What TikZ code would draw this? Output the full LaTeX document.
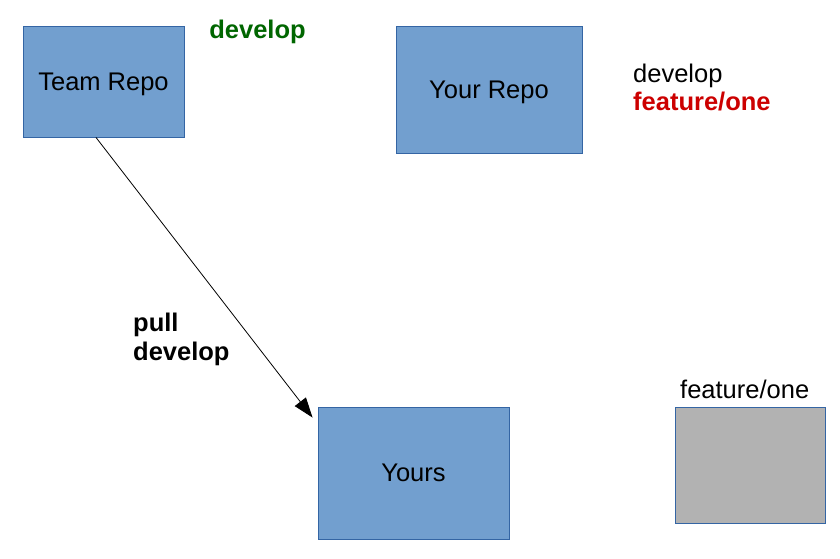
\documentclass[tikz,border=0pt]{standalone}
\usepackage{fontspec}
\setmainfont{Liberation Sans}
\usetikzlibrary{arrows.meta}
\definecolor{boxfill}{HTML}{729FCF}
\definecolor{boxline}{HTML}{3465A4}
\definecolor{grayfill}{HTML}{B2B2B2}
\definecolor{devgreen}{HTML}{006600}
\definecolor{featred}{HTML}{CC0000}
\tikzset{
  repo/.style={draw=boxline, line width=0.9pt, fill=boxfill, inner sep=0pt, rectangle,
    text depth=0pt, font=\fontsize{25.5}{30}\selectfont},
  lbl/.style={inner sep=0pt, font=\fontsize{25.5}{30}\selectfont},
  blbl/.style={inner sep=0pt, font=\fontsize{25.5}{30}\selectfont\bfseries},
  conn/.style={line width=0.8pt, -{Triangle[length=20pt,width=14pt]}}
}
\begin{document}
\begin{tikzpicture}[x=1pt,y=-1pt]
\useasboundingbox (0,0) rectangle (840,558);
\node[repo, minimum width=161pt, minimum height=111pt] (team) at (103.5,81.5) {Team Repo};
\node[repo, minimum width=186pt, minimum height=127pt] (your) at (489,89.5) {Your Repo};
\node[repo, minimum width=191pt, minimum height=132pt] (yours) at (413.5,473) {Yours};
\node[repo, fill=grayfill, minimum width=150pt, minimum height=116pt] (gray) at (750,465) {};
\node[blbl, text=devgreen, anchor=base] (tdev) at (257.5,38) {develop};
\node[lbl, anchor=base west] (ydev) at (633,82) {develop};
\node[blbl, text=featred, anchor=base west] (yfeat) at (633,110) {feature/one};
\node[lbl, anchor=base west] (gfeat) at (680,398) {feature/one};
\node[blbl, anchor=base west] (pull) at (133,331) {pull};
\node[blbl, anchor=base west] (pdev) at (133,360) {develop};
\draw[conn] ([xshift=-7.5pt]team.south) -- ([xshift=-5pt,yshift=-11pt]yours.north west);
\end{tikzpicture}
\end{document}
